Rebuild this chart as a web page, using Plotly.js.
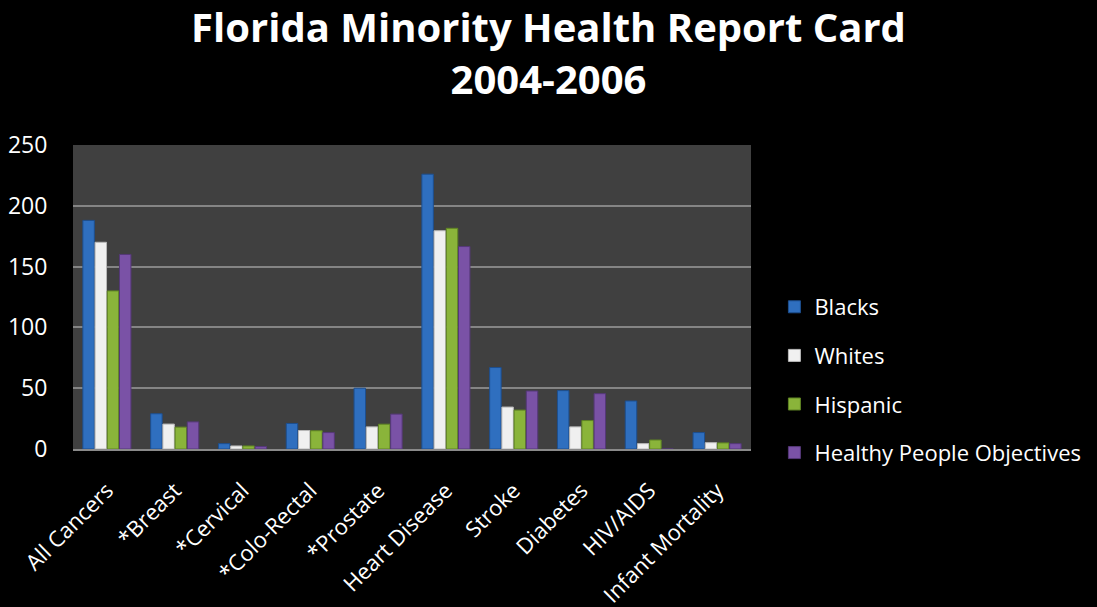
<!DOCTYPE html>
<html><head><meta charset="utf-8">
<script src="https://cdn.plot.ly/plotly-3.0.1.min.js"></script>
<style>html,body{margin:0;padding:0;background:#000;}#chart{width:1097px;height:607px;}</style>
</head><body><div id="chart"></div>
<script>
const categories = ["All Cancers","*Breast","*Cervical","*Colo-Rectal","*Prostate","Heart Disease","Stroke","Diabetes","HIV/AIDS","Infant Mortality"];
const blacks   = [188, 29, 4.4, 21, 50, 226, 67, 48, 39.5, 13.5];
const whites   = [170, 20.5, 2.5, 15.2, 18.2, 179.5, 34.5, 18.2, 4.4, 5.2];
const hispanic = [130, 18, 2.5, 15, 20.4, 181.5, 32, 23.4, 7.4, 5];
const healthy  = [160, 22.3, 2, 13.5, 28.7, 166.5, 47.7, 45.5, 0, 4.4];
const seriesNames = ["Blacks","Whites","Hispanic","Healthy People Objectives"];
const colors = ["#2f6fbf","#f0f0f0","#8ab43a","#7a52a6"];
const lines = ["#1d4f8f","#b8b8b8","#5f8423","#553878"];
const values = [blacks, whites, hispanic, healthy];

const traces = values.map((v,i)=>({
  type:'bar', x:categories, y:v, name:seriesNames[i], legendgroup:'g'+i,
  marker:{color:colors[i], line:{color:lines[i], width:1}},
  hoverinfo:'x+y+name'
}));

const layout = {
  width:1097, height:607,
  paper_bgcolor:'#000', plot_bgcolor:'#404040',
  margin:{l:73, r:345, t:145, b:158},
  title:{text:'<b>Florida Minority Health Report Card<br>2004-2006</b>', x:0.5, xanchor:'center',
    yref:'container', y:0.931, yanchor:'middle',
    font:{family:'Open Sans, Lato, sans-serif', size:40, color:'#fff'}},
  barmode:'group', bargap:0.28, bargroupgap:0.06,
  xaxis:{tickangle:-45, tickfont:{family:'Open Sans, sans-serif', size:22, color:'#fff'},
    ticklabelstandoff:18,
    showline:true, linecolor:'#8a8a8a', linewidth:2, showgrid:false, ticks:'', fixedrange:true},
  yaxis:{range:[0,250], dtick:50, tickfont:{family:'Open Sans, sans-serif', size:23, color:'#fff'},
    gridcolor:'#858585', gridwidth:2, zeroline:false, showline:false, ticks:'outside', ticklen:20, tickcolor:'rgba(0,0,0,0)', fixedrange:true},
  legend:{x:1.033, xanchor:'left', y:0.227, yanchor:'middle', font:{family:'Open Sans, sans-serif', size:22, color:'#fff'},
    tracegroupgap:17, bgcolor:'rgba(0,0,0,0)', itemwidth:30},
  showlegend:true
};
Plotly.newPlot('chart', traces, layout, {displayModeBar:false, staticPlot:true});
</script></body></html>
